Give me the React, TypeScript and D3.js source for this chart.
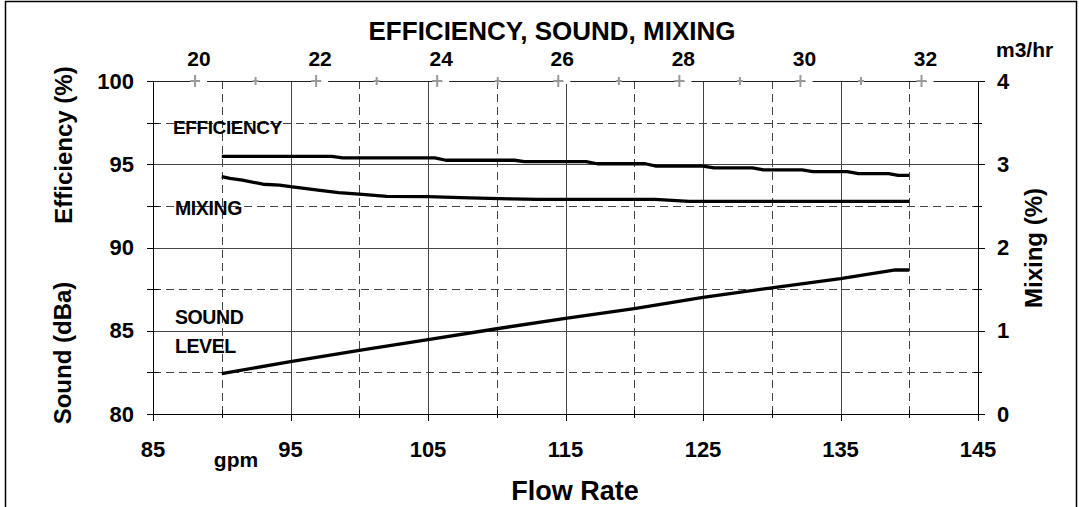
import React from 'react'
import * as d3 from 'd3'

const effFlow = [90, 98, 98.8, 105.5, 106.3, 111.3, 112, 116.5, 117.3, 120.8, 121.6, 125, 125.8, 128.6, 129.4, 132.2, 133, 135.5, 136.3, 138.5, 139.2, 140]
const effValues = [95.47, 95.47, 95.38, 95.38, 95.24, 95.24, 95.16, 95.16, 95.03, 95.03, 94.89, 94.89, 94.78, 94.78, 94.66, 94.66, 94.56, 94.56, 94.44, 94.44, 94.33, 94.33]

const mixFlow = [90, 90.6, 91.5, 93, 94.2, 95, 96, 97, 98.5, 100, 102, 105, 108, 111, 113, 121.5, 124, 140]
const mixValues = [2.85, 2.83, 2.81, 2.76, 2.75, 2.73, 2.71, 2.69, 2.66, 2.64, 2.615, 2.61, 2.595, 2.585, 2.578, 2.578, 2.553, 2.553]

const soundFlow = [90, 95, 100, 105, 110, 115, 120, 125, 130, 135, 139, 140]
const soundValues = [82.42, 83.15, 83.82, 84.46, 85.12, 85.75, 86.33, 87.0, 87.58, 88.13, 88.65, 88.65]

// axis ticks
const gpmTicks = [85, 95, 105, 115, 125, 135, 145]
const gpmMinor = [90, 100, 110, 120, 130, 140]
const leftTicks = [80, 85, 90, 95, 100]
const leftMinor = [82.5, 87.5, 92.5, 97.5]
const rightTicks = [0, 1, 2, 3, 4]
const m3Ticks = [20, 22, 24, 26, 28, 30, 32]
const m3Minor = [21, 23, 25, 27, 29, 31]
const GPM_PER_M3HR = 4.4029

const W = 1079
const H = 507
const font = '"Liberation Sans", Arial, sans-serif'

export default function App() {
  const left = 153, right = 978, top = 81, bottom = 414

  // 定义比例尺
  const x = d3.scaleLinear().domain([85, 145]).range([left, right])
  const yL = d3.scaleLinear().domain([80, 100]).range([bottom, top])
  const yR = d3.scaleLinear().domain([0, 4]).range([bottom, top])

  const lineL = d3.line<[number, number]>().x(d => x(d[0])).y(d => yL(d[1]))
  const lineR = d3.line<[number, number]>().x(d => x(d[0])).y(d => yR(d[1]))

  const effPts = effFlow.map((f, i) => [f, effValues[i]] as [number, number])
  const mixPts = mixFlow.map((f, i) => [f, mixValues[i]] as [number, number])
  const soundPts = soundFlow.map((f, i) => [f, soundValues[i]] as [number, number])

  const px = (v: number) => Math.round(v) + 0.5
  const grid = '#444'
  const dash = '8,5'

  return (
    <svg width={W} height={H} style={{ position: 'absolute', left: 0, top: 0, background: '#fff' }}
      fontFamily={font} fontWeight="bold">
      <rect x={5.5} y={1.5} width={1071} height={560} fill="#fff" stroke="#000" strokeWidth={1.5} />

      {/* grid */}
      {gpmTicks.slice(1, -1).map(t => (
        <line key={'vg' + t} x1={px(x(t))} x2={px(x(t))} y1={top} y2={bottom} stroke={grid} />
      ))}
      {gpmMinor.map(t => (
        <line key={'vd' + t} x1={px(x(t))} x2={px(x(t))} y1={top} y2={bottom} stroke={grid} strokeDasharray={dash} />
      ))}
      {leftTicks.slice(1, -1).map(t => (
        <line key={'hg' + t} x1={left} x2={right} y1={px(yL(t))} y2={px(yL(t))} stroke={grid} />
      ))}
      {leftMinor.map(t => (
        <line key={'hd' + t} x1={left} x2={right} y1={px(yL(t))} y2={px(yL(t))} stroke={grid} strokeDasharray={dash} />
      ))}

      {/* plot frame */}
      <line x1={left - 6} x2={right + 7} y1={px(top)} y2={px(top)} stroke="#222" />
      <line x1={left} x2={right + 7} y1={px(bottom)} y2={px(bottom)} stroke="#000" />
      <line x1={px(left)} x2={px(left)} y1={top} y2={bottom + 6} stroke="#000" />
      <line x1={px(right)} x2={px(right)} y1={top} y2={bottom + 6} stroke="#000" />

      {/* left axis */}
      {leftTicks.map(t => (
        <g key={'lt' + t}>
          <line x1={left - 6} x2={left} y1={px(yL(t))} y2={px(yL(t))} stroke="#000" />
          <text x={134} y={yL(t) + 7.5} textAnchor="end" fontSize={22}>{t}</text>
        </g>
      ))}
      {leftMinor.map(t => (
        <line key={'lm' + t} x1={left - 6} x2={left + 6} y1={px(yL(t))} y2={px(yL(t))} stroke="#000" />
      ))}

      {/* right axis */}
      {rightTicks.map(t => (
        <g key={'rt' + t}>
          <line x1={right} x2={right + 7} y1={px(yR(t))} y2={px(yR(t))} stroke="#000" />
          <text x={997} y={yR(t) + 7.5} fontSize={22}>{t}</text>
        </g>
      ))}
      {rightTicks.slice(0, -1).map(t => (
        <line key={'rm' + t} x1={right - 4} x2={right + 4} y1={px(yR(t + 0.5))} y2={px(yR(t + 0.5))} stroke="#000" />
      ))}

      {/* bottom axis */}
      {gpmTicks.map(t => (
        <g key={'bt' + t}>
          <line x1={px(x(t))} x2={px(x(t))} y1={bottom} y2={bottom + 7} stroke="#000" />
          <text x={x(t)} y={457} textAnchor="middle" fontSize={22}>{t}</text>
        </g>
      ))}
      {gpmMinor.map(t => (
        <line key={'bm' + t} x1={px(x(t))} x2={px(x(t))} y1={bottom - 4} y2={bottom + 4} stroke="#000" />
      ))}

      {/* top axis m3/hr */}
      {m3Ticks.map(t => {
        const cx = x(t * GPM_PER_M3HR)
        return (
          <g key={'tt' + t}>
            <rect x={cx + 5} y={top - 3} width={7} height={6} fill="#fff" />
            <line x1={cx - 5} x2={cx + 5} y1={top} y2={top} stroke="#999" strokeWidth={2} />
            <line x1={cx} x2={cx} y1={top - 6} y2={top + 6} stroke="#999" strokeWidth={2} />
            <text x={cx + 4} y={65.5} textAnchor="middle" fontSize={21}>{t}</text>
          </g>
        )
      })}
      {m3Minor.map(t => {
        const cx = x(t * GPM_PER_M3HR)
        return (
          <g key={'tm' + t}>
            <line x1={cx - 3} x2={cx + 3} y1={top} y2={top} stroke="#999" strokeWidth={2} />
            <line x1={cx} x2={cx} y1={top - 4} y2={top + 4} stroke="#999" strokeWidth={2} />
          </g>
        )
      })}

      {/* curves */}
      <path d={lineL(effPts) || ''} fill="none" stroke="#000" strokeWidth={3.3} strokeLinejoin="round" />
      <path d={lineR(mixPts) || ''} fill="none" stroke="#000" strokeWidth={3.3} strokeLinejoin="round" />
      <path d={lineL(soundPts) || ''} fill="none" stroke="#000" strokeWidth={3.3} strokeLinejoin="round" />

      {/* curve labels */}
      <text x={173} y={133.5} fontSize={19} letterSpacing={-0.4}>EFFICIENCY</text>
      <text x={175} y={214.5} fontSize={19.5} letterSpacing={-0.4}>MIXING</text>
      <text x={175} y={323.5} fontSize={19.5} letterSpacing={-0.4}>SOUND</text>
      <text x={175} y={353} fontSize={19.5} letterSpacing={-0.4}>LEVEL</text>

      {/* titles */}
      <text x={552} y={40} textAnchor="middle" fontSize={26}>EFFICIENCY, SOUND, MIXING</text>
      <text x={996} y={57} fontSize={21}>m3/hr</text>
      <text x={236} y={467} textAnchor="middle" fontSize={21}>gpm</text>
      <text x={575} y={500} textAnchor="middle" fontSize={27}>Flow Rate</text>
      <text transform="translate(72,145) rotate(-90)" textAnchor="middle" fontSize={24}>Efficiency (%)</text>
      <text transform="translate(71,353) rotate(-90)" textAnchor="middle" fontSize={24}>Sound (dBa)</text>
      <text transform="translate(1042,248) rotate(-90)" textAnchor="middle" fontSize={24}>Mixing (%)</text>
    </svg>
  )
}
